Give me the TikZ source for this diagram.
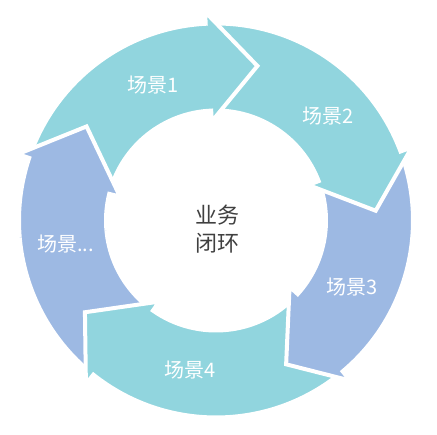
\documentclass[tikz,border=0pt]{standalone}
\usepackage{fontspec}
\setmainfont{Noto Sans CJK SC}
\definecolor{teal1}{RGB}{145,213,222}
\definecolor{blue1}{RGB}{157,185,227}
\definecolor{txtgray}{RGB}{64,64,64}
\newcommand\ringarrow[6]{%
  \filldraw[fill=#6, draw=white, line width=4pt, line join=miter]
    (#1:197) arc[start angle=#1, end angle=#3, radius=197]
    -- (#3:209) -- (#5:160) -- (#4:99) -- (#4:110)
    arc[start angle=#4, end angle=#2, radius=110] -- cycle;}
\tikzset{
  seglabel/.style={text=white, font=\fontsize{20}{24}\selectfont, inner sep=0pt},
  centerlabel/.style={text=txtgray, font=\fontsize{22}{28}\selectfont, align=center, inner sep=0pt}
}
\begin{document}
\begin{tikzpicture}[x=1pt,y=1pt]
\useasboundingbox[fill=white] (-216,-214.5) rectangle (221,220.5);
% arrows: start-outer, start-inner, barb-outer, barb-inner, tip, colour
\ringarrow{-129.5}{-126}{-198.5}{-194}{-216}{blue1}
\ringarrow{-51}{-43}{-128.5}{-125}{-145}{teal1}
\ringarrow{19.5}{20}{-50}{-42}{-64}{blue1}
\ringarrow{92}{91.5}{20.5}{21}{3.5}{teal1}
\ringarrow{160.5}{165}{93}{92.5}{75}{teal1}
\begin{scope}
  \clip (0,0) -- (125:280) arc[start angle=125, end angle=185, radius=280] -- cycle;
  \ringarrow{-129.5}{-126}{-198.5}{-194}{-216}{blue1}
\end{scope}
\node[seglabel] (s1) at (-63,135) {场景1};
\node[seglabel] (s2) at (112,104) {场景2};
\node[seglabel] (s3) at (136.5,-67) {场景3};
\node[seglabel] (s4) at (-25.7,-150) {场景4};
\node[seglabel] (s5) at (-150.3,-23.5) {场景...};
\node[centerlabel] (c) at (1.5,-8.5) {业务\\闭环};
\end{tikzpicture}
\end{document}
